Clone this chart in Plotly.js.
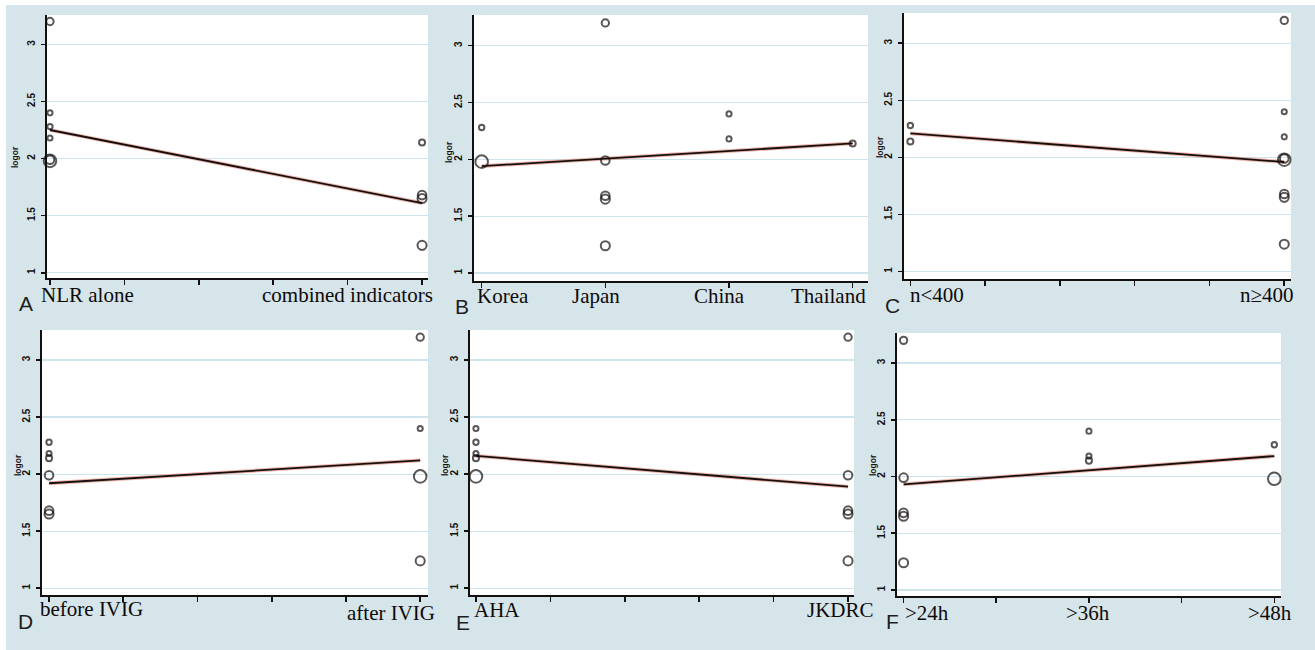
<!DOCTYPE html>
<html>
<head>
<meta charset="utf-8">
<script src="https://cdn.plot.ly/plotly-3.0.1.min.js"></script>
<style>
  html, body { margin: 0; padding: 0; background: #ffffff; }
  #chart { width: 1315px; height: 650px; }
</style>
</head>
<body>
<div id="chart"></div>
<script>
// Meta-regression bubble plots: log odds ratio of each study against six covariates.
// Study order: Korea (2), Japan (5), China (2), Thailand (1).
const studyLogOR  = [2.28, 1.98, 3.20, 1.99, 1.68, 1.65, 1.24, 2.40, 2.18, 2.14];
const studyWeight = [4.6, 19.6, 7.6, 10.0, 10.0, 11.0, 11.0, 4.2, 4.2, 5.6];

// Covariates (coded values per study)
const method       = [0, 0, 0, 0, 1, 1, 1, 0, 0, 1];     // 0 = NLR alone, 1 = combined indicators
const country      = [1, 1, 2, 2, 2, 2, 2, 3, 3, 4];     // Korea, Japan, China, Thailand
const sampleSize   = [0, 1, 1, 1, 1, 1, 1, 1, 1, 0];     // 0 = n<400, 1 = n≥400
const timing       = [0, 1, 1, 0, 0, 0, 1, 1, 0, 0];     // 0 = before IVIG, 1 = after IVIG
const criteria     = [0, 0, 1, 1, 1, 1, 1, 0, 0, 0];     // 0 = AHA, 1 = JKDRC
const resistHours  = [48, 48, 24, 24, 24, 24, 24, 36, 36, 36];

// Category tick labels
const methodLabels   = ['NLR alone', 'combined indicators'];
const countryLabels  = ['Korea', 'Japan', 'China', 'Thailand'];
const sizeLabels     = ['n<400', 'n≥400'];
const timingLabels   = ['before IVIG', 'after IVIG'];
const criteriaLabels = ['AHA', 'JKDRC'];
const hourLabels     = ['>24h', '>36h', '>48h'];

// Fitted log OR at the first and last category of each covariate
const fitMethod   = [2.25, 1.61];
const fitCountry  = [1.94, 2.14];
const fitSize     = [2.21, 1.96];
const fitTiming   = [1.92, 2.12];
const fitCriteria = [2.16, 1.89];
const fitHours    = [1.93, 2.18];

const W = 1315, H = 650;
const fx = p => p / W;
const fy = p => 1 - p / H;

const panels = [
  { letter: 'A', xs: method, cats: [0, 1], labels: methodLabels, fit: fitMethod,
    tickvals: [0, 0.2, 0.4, 0.6, 0.8, 1],
    box: { l: 47, r: 428, t: 15, b: 278 }, xr: [-0.008, 1.016], yr: [0.954, 3.257],
    place: [['left', -11], ['right', 13]], labelY: [295, 295],
    letterPos: [26, 304], titlePos: [15, 157] },
  { letter: 'B', xs: country, cats: [1, 2, 3, 4], labels: countryLabels, fit: fitCountry,
    tickvals: [1, 2, 3, 4],
    box: { l: 474, r: 868, t: 15, b: 281 }, xr: [0.938, 4.124], yr: [0.93, 3.27],
    place: [['left', -7], ['center', -9], ['center', -9.5], ['right', 15]], labelY: [296, 296, 296, 296],
    letterPos: [462, 306], titlePos: [449, 152] },
  { letter: 'C', xs: sampleSize, cats: [0, 1], labels: sizeLabels, fit: fitSize,
    tickvals: [0, 0.2, 0.4, 0.6, 0.8, 1],
    box: { l: 904, r: 1291, t: 13, b: 279 }, xr: [-0.017, 1.018], yr: [0.935, 3.265],
    place: [['left', -2], ['right', 12]], labelY: [295, 295],
    letterPos: [892, 305], titlePos: [880, 147] },
  { letter: 'D', xs: timing, cats: [0, 1], labels: timingLabels, fit: fitTiming,
    tickvals: [0, 0.2, 0.4, 0.6, 0.8, 1],
    box: { l: 42, r: 428, t: 330, b: 595 }, xr: [-0.019, 1.021], yr: [0.941, 3.263],
    place: [['left', -11], ['right', 17]], labelY: [609, 613],
    letterPos: [26, 621], titlePos: [18, 465] },
  { letter: 'E', xs: criteria, cats: [0, 1], labels: criteriaLabels, fit: fitCriteria,
    tickvals: [0, 0.2, 0.4, 0.6, 0.8, 1],
    box: { l: 470, r: 854, t: 330, b: 595 }, xr: [-0.016, 1.016], yr: [0.941, 3.263],
    place: [['left', -4], ['right', 28]], labelY: [610, 610],
    letterPos: [463, 622], titlePos: [445, 465] },
  { letter: 'F', xs: resistHours, cats: [24, 36, 48], labels: hourLabels, fit: fitHours,
    tickvals: [24, 30, 36, 42, 48],
    box: { l: 897, r: 1281, t: 333, b: 596 }, xr: [23.573, 48.434], yr: [0.947, 3.265],
    place: [['left', -1], ['center', -1], ['right', 20]], labelY: [613, 613, 613],
    letterPos: [892, 621], titlePos: [873, 465] }
];

const INK = '#141010';
const MARKER_LW = 2;
// bubble area proportional to study weight
const bubbleSize = w => Math.sqrt(10 * w) - MARKER_LW + 0.6;

const traces = [];
const annotations = [];
const layout = {
  width: W, height: H,
  margin: { l: 0, r: 0, t: 0, b: 0 },
  paper_bgcolor: '#d6e5e9',
  plot_bgcolor: '#ffffff',
  showlegend: false,
  font: { family: 'Liberation Sans, Arial, sans-serif', color: INK },
  annotations: annotations,
  shapes: [
    // thin white border along the top and left edges
    { type: 'rect', xref: 'paper', yref: 'paper', x0: 0, x1: fx(6), y0: 0, y1: 1,
      fillcolor: '#ffffff', line: { width: 0 }, layer: 'above' },
    { type: 'rect', xref: 'paper', yref: 'paper', x0: 0, x1: 1, y0: fy(5), y1: 1,
      fillcolor: '#ffffff', line: { width: 0 }, layer: 'above' }
  ]
};

panels.forEach((p, i) => {
  const n = i + 1;
  const xa = 'x' + (n === 1 ? '' : n);
  const ya = 'y' + (n === 1 ? '' : n);
  const xKey = 'xaxis' + (n === 1 ? '' : n);
  const yKey = 'yaxis' + (n === 1 ? '' : n);

  layout[xKey] = {
    domain: [fx(p.box.l), fx(p.box.r)],
    anchor: ya, range: p.xr, fixedrange: true,
    showgrid: false, zeroline: false,
    showline: true, linecolor: INK, linewidth: 2.2,
    ticks: 'outside', ticklen: 5, tickwidth: 1.6, tickcolor: INK,
    tickmode: 'array', tickvals: p.tickvals, ticktext: p.tickvals.map(() => ''),
    showticklabels: false
  };
  layout[yKey] = {
    domain: [fy(p.box.b), fy(p.box.t)],
    anchor: xa, range: p.yr, fixedrange: true,
    showgrid: true, gridcolor: '#cfe5ee', gridwidth: 1.2,
    zeroline: false,
    showline: true, linecolor: INK, linewidth: 2.2,
    ticks: 'outside', ticklen: 4, tickwidth: 1.6, tickcolor: INK,
    tickmode: 'array', tickvals: [1, 1.5, 2, 2.5, 3], ticktext: ['1', '1.5', '2', '2.5', '3'],
    tickangle: -90, ticklabelstandoff: 2,
    tickfont: { family: 'Liberation Sans, Arial, sans-serif', size: 10, weight: 'bold', color: INK }
  };

  // fitted regression line (soft red fringe under a dark core)
  const lineX = [p.cats[0], p.cats[p.cats.length - 1]];
  traces.push({
    type: 'scatter', mode: 'lines', xaxis: xa, yaxis: ya,
    x: lineX, y: p.fit, line: { color: 'rgba(226,120,100,0.55)', width: 3.8 },
    hoverinfo: 'skip'
  });
  traces.push({
    type: 'scatter', mode: 'lines', xaxis: xa, yaxis: ya,
    x: lineX, y: p.fit, line: { color: INK, width: 1.8 },
    hoverinfo: 'skip'
  });

  // study bubbles
  traces.push({
    type: 'scatter', mode: 'markers', xaxis: xa, yaxis: ya,
    x: p.xs, y: studyLogOR, cliponaxis: false,
    marker: {
      symbol: 'circle-open', color: INK,
      size: studyWeight.map(bubbleSize),
      line: { width: MARKER_LW, color: INK }
    }
  });

  // category labels along the x axis
  p.labels.forEach((lab, k) => {
    annotations.push({
      xref: xa, yref: 'paper', x: p.cats[k], y: fy(p.labelY[k]),
      xanchor: p.place[k][0], yanchor: 'middle', xshift: p.place[k][1],
      text: lab, showarrow: false,
      font: { family: 'Liberation Serif, Times New Roman, serif', size: 21, color: '#0e0a0a' }
    });
  });

  // y axis title
  annotations.push({
    xref: 'paper', yref: 'paper', x: fx(p.titlePos[0]), y: fy(p.titlePos[1]),
    xanchor: 'center', yanchor: 'middle', textangle: -90,
    text: 'logor', showarrow: false,
    font: { family: 'Liberation Sans, Arial, sans-serif', size: 8.5, weight: 'bold', color: INK }
  });

  // panel letter
  annotations.push({
    xref: 'paper', yref: 'paper', x: fx(p.letterPos[0]), y: fy(p.letterPos[1]),
    xanchor: 'center', yanchor: 'middle',
    text: p.letter, showarrow: false,
    font: { family: 'Liberation Sans, Arial, sans-serif', size: 21, color: '#1e1e1e' }
  });
});

Plotly.newPlot('chart', traces, layout, { staticPlot: true, displayModeBar: false });
</script>
</body>
</html>
